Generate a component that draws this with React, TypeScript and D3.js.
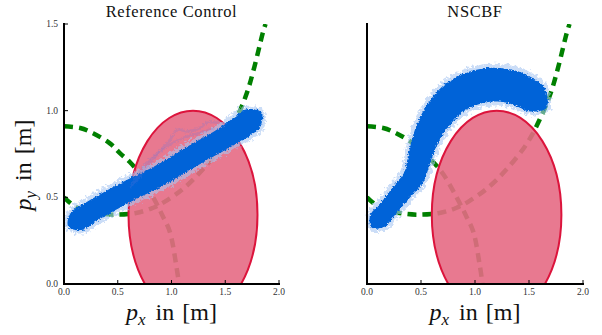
import React from 'react';
import * as d3 from 'd3';

// ---- data ----
const xTicks = [0, 0.5, 1.0, 1.5, 2.0];
const yTicks = [0, 0.5, 1.0, 1.5];
const panelTitles = ['Reference Control', 'NSCBF'];

// circular obstacle (meters)
const obstacleCenter: [number, number] = [1.2, 0.4];
const obstacleRadius: [number, number] = [0.6, 0.6];

// green dashed boundary curves
const boundaryA: [number, number][] = [
  [0, 0.91], [0.15, 0.9], [0.27, 0.87], [0.43, 0.81], [0.52, 0.755], [0.61, 0.705],
  [0.71, 0.63], [0.83, 0.5], [0.92, 0.39], [0.985, 0.3], [1.046, 0.1], [1.07, 0.0],
];
const boundaryB: [number, number][] = [
  [0, 0.5], [0.12, 0.44], [0.3, 0.41], [0.47, 0.4], [0.67, 0.41], [0.83, 0.44],
  [0.95, 0.48], [1.11, 0.55], [1.29, 0.66], [1.48, 0.81], [1.6, 0.95], [1.7, 1.1],
  [1.77, 1.25], [1.85, 1.45], [1.875, 1.5],
];

// trajectory bundles: centre line and spread (meters)
const refCenter: [number, number][] = [
  [0.11, 0.36], [0.27, 0.423], [0.58, 0.53], [0.89, 0.625], [1.2, 0.74], [1.51, 0.85],
  [1.68, 0.92], [1.76, 0.955],
];
const refSpread = [0.052, 0.056, 0.056, 0.056, 0.056, 0.058, 0.065, 0.06];
const refWisps: [number, number][][] = [
  [[0.62, 0.56], [0.74, 0.68], [0.86, 0.75], [0.986, 0.83], [1.05, 0.89], [1.14, 0.88], [1.265, 0.9], [1.33, 0.93], [1.45, 0.93]],
  [[0.66, 0.58], [0.8, 0.7], [0.95, 0.79], [1.1, 0.84], [1.25, 0.87], [1.4, 0.9]],
];

const nscbfCenter: [number, number][] = [
  [0.09, 0.36], [0.21, 0.446], [0.335, 0.542], [0.428, 0.61], [0.49, 0.735],
  [0.55, 0.85], [0.645, 0.96], [0.8, 1.07], [0.985, 1.13], [1.17, 1.15],
  [1.355, 1.135], [1.51, 1.09], [1.57, 1.06],
];
const nscbfSpread = [0.045, 0.048, 0.052, 0.056, 0.062, 0.07, 0.08, 0.088, 0.092, 0.092, 0.09, 0.085, 0.075];

// ---- layout ----
const W = 602;
const H = 335;
const top = 24;
const bottom = 284;
const panels = [
  { left: 64, right: 279, showY: true },
  { left: 367, right: 583, showY: false },
];

const serif = '"Liberation Serif", "Times New Roman", serif';

function bandPath(
  center: [number, number][],
  spread: number[],
  xs: d3.ScaleLinear<number, number>,
  ys: d3.ScaleLinear<number, number>,
  extra: number,
) {
  const k = Math.abs(ys(1) - ys(0));
  const pts = center.map(([x, y]) => [xs(x), ys(y)]);
  const n = pts.length;
  const left: [number, number][] = [];
  const right: [number, number][] = [];
  const tangents: [number, number][] = [];
  for (let i = 0; i < n; i++) {
    const a = pts[Math.max(i - 1, 0)];
    const b = pts[Math.min(i + 1, n - 1)];
    let tx = b[0] - a[0];
    let ty = b[1] - a[1];
    const len = Math.hypot(tx, ty) || 1;
    tx /= len;
    ty /= len;
    tangents.push([tx, ty]);
    const w = spread[i] * k + extra;
    left.push([pts[i][0] - ty * w, pts[i][1] + tx * w]);
    right.push([pts[i][0] + ty * w, pts[i][1] - tx * w]);
  }
  const w0 = spread[0] * k + extra;
  const wn = spread[n - 1] * k + extra;
  const startCap: [number, number] = [pts[0][0] - tangents[0][0] * w0 * 0.9, pts[0][1] - tangents[0][1] * w0 * 0.9];
  const endCap: [number, number] = [pts[n - 1][0] + tangents[n - 1][0] * wn * 0.9, pts[n - 1][1] + tangents[n - 1][1] * wn * 0.9];
  const poly = [...left, endCap, ...right.reverse(), startCap];
  return d3.line().curve(d3.curveCatmullRomClosed.alpha(0.5))(poly as [number, number][]) || '';
}

function AxisLabel({ sub }: { sub: string }) {
  return (
    <>
      <tspan fontStyle="italic">p</tspan>
      <tspan fontStyle="italic" fontSize={17} dy={5}>{sub}</tspan>
      <tspan dy={-5} dx={10}>in</tspan>
      <tspan dx={8}>[m]</tspan>
    </>
  );
}

function Panel({ idx }: { idx: number }) {
  const p = panels[idx];
  const xs = d3.scaleLinear().domain([0, 2]).range([p.left, p.right]);
  const ys = d3.scaleLinear().domain([0, 1.5]).range([bottom, top]);
  const line = d3
    .line<[number, number]>()
    .x((d) => xs(d[0]))
    .y((d) => ys(d[1]))
    .curve(d3.curveCatmullRom.alpha(0.5));
  const fmt = d3.format('.1f');
  const center = idx === 0 ? refCenter : nscbfCenter;
  const spread = idx === 0 ? refSpread : nscbfSpread;
  const clipId = `clip${idx}`;
  const cx = (p.left + p.right) / 2;
  return (
    <g>
      <defs>
        <clipPath id={clipId}>
          <rect x={xs(0)} y={ys(1.5)} width={xs(2) - xs(0)} height={ys(0) - ys(1.5)} />
        </clipPath>
      </defs>
      <text x={cx} y={17} textAnchor="middle" fontFamily={serif} fontSize={16.5} letterSpacing={0.6} fill="#111">
        {panelTitles[idx]}
      </text>
      <g clipPath={`url(#${clipId})`}>
        {[boundaryA, boundaryB].map((b, i) => (
          <path key={i} d={line(b) || ''} fill="none" stroke="#008000" strokeWidth={4.5} strokeDasharray="9 6" />
        ))}
        <ellipse
          cx={xs(obstacleCenter[0])}
          cy={ys(obstacleCenter[1])}
          rx={xs(obstacleCenter[0] + obstacleRadius[0]) - xs(obstacleCenter[0])}
          ry={ys(obstacleCenter[1]) - ys(obstacleCenter[1] + obstacleRadius[1])}
          fill="#e66a84"
          fillOpacity={0.9}
          stroke="#dc143c"
          strokeWidth={2}
        />
      </g>
      <path d={bandPath(center, spread, xs, ys, 5)} fill="#a9c6f2" fillOpacity={0.6} filter="url(#fuzzA)" />
      <path d={bandPath(center, spread, xs, ys, 1)} fill="#0563d8" filter="url(#fuzzB)" />
      {idx === 0 &&
        refWisps.map((w, i) => (
          <path key={i} d={line(w) || ''} fill="none" stroke="#6a78d8" strokeOpacity={0.22} strokeWidth={2.5} filter="url(#fuzzB)" />
        ))}
      {/* spines */}
      <line x1={p.left} x2={p.left} y1={top - 1} y2={bottom + 1} stroke="#000" strokeWidth={2} />
      <line x1={p.left - 1} x2={p.right + 1} y1={bottom} y2={bottom} stroke="#000" strokeWidth={2} />
      {xTicks.map((t) => (
        <g key={`x${t}`}>
          <line x1={xs(t)} x2={xs(t)} y1={bottom} y2={bottom - 4} stroke="#000" strokeWidth={1} />
          <text x={xs(t)} y={295} textAnchor="middle" fontFamily={serif} fontSize={9.5} fill="#333">
            {fmt(t)}
          </text>
        </g>
      ))}
      {p.showY &&
        yTicks.map((t) => (
          <g key={`y${t}`}>
            <line x1={p.left} x2={p.left + 4} y1={ys(t)} y2={ys(t)} stroke="#000" strokeWidth={1} />
            <text x={58} y={ys(t)} dy="0.33em" textAnchor="end" fontFamily={serif} fontSize={9.5} fill="#333">
              {fmt(t)}
            </text>
          </g>
        ))}
      <text x={cx} y={320} textAnchor="middle" fontFamily={serif} fontSize={24} fill="#111">
        <AxisLabel sub="x" />
      </text>
      {p.showY && (
        <text
          transform={`translate(31,${(top + bottom) / 2 + 11}) rotate(-90)`}
          textAnchor="middle"
          fontFamily={serif}
          fontSize={24}
          fill="#111"
        >
          <AxisLabel sub="y" />
        </text>
      )}
    </g>
  );
}

export default function App() {
  return (
    <svg width={W} height={H} style={{ position: 'absolute', left: 0, top: 0, background: '#fff' }}>
      <defs>
        <filter id="fuzzA" x="-10%" y="-10%" width="120%" height="120%">
          <feTurbulence type="fractalNoise" baseFrequency="0.35" numOctaves={2} seed={4} />
          <feDisplacementMap in="SourceGraphic" scale={9} xChannelSelector="R" yChannelSelector="G" />
        </filter>
        <filter id="fuzzB" x="-10%" y="-10%" width="120%" height="120%">
          <feTurbulence type="fractalNoise" baseFrequency="0.6" numOctaves={2} seed={7} />
          <feDisplacementMap in="SourceGraphic" scale={4} xChannelSelector="R" yChannelSelector="G" />
        </filter>
      </defs>
      <rect width={W} height={H} fill="#fff" />
      <Panel idx={0} />
      <Panel idx={1} />
    </svg>
  );
}
